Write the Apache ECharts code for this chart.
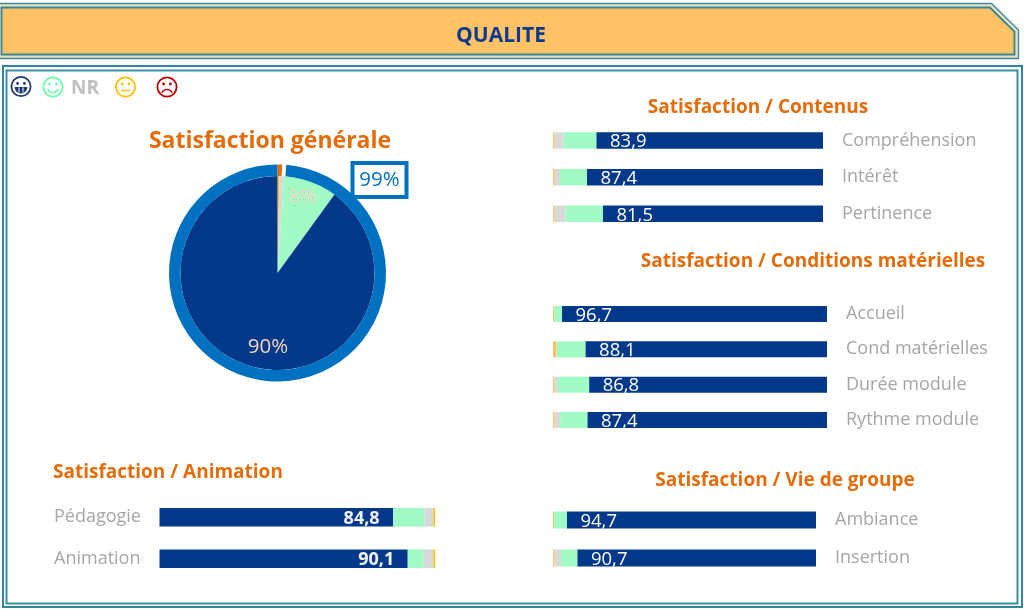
<!DOCTYPE html>
<html>
<head>
<meta charset="utf-8">
<title>QUALITE</title>
<style>
html, body { margin: 0; padding: 0; background: #fff; }
#chart { width: 1024px; height: 609px; }
</style>
<script src="https://cdn.jsdelivr.net/npm/echarts@6/dist/echarts.min.js"></script>
</head>
<body>
<div id="chart"></div>
<script>
// satisfaction generale
var pieNames = ['Mécontent', 'NR', 'Satisfait', 'Très satisfait'];
var pieValues = [0.3, 0.8, 8.9, 90];
var pieLabels = ['', '', '8%', '90%'];
var ringNames = ['Non', 'Vide', 'Oui'];
var ringValues = [0.7, 0.6, 99];

// contenus
var contenusCats = ['Compréhension', 'Intérêt', 'Pertinence'];
var contenusYellow = [0.6, 0.6, 0.6];
var contenusNr = [3.3, 2, 4];
var contenusGreen = [12.2, 10, 13.9];
var contenusBlue = [83.9, 87.4, 81.5];

// conditions materielles
var condCats = ['Accueil', 'Cond matérielles', 'Durée module', 'Rythme module'];
var condYellow = [0.5, 1.3, 0.6, 0.6];
var condNr = [0, 0, 1.2, 2];
var condGreen = [2.8, 10.6, 11.4, 10];
var condBlue = [96.7, 88.1, 86.8, 87.4];

// vie de groupe
var vieCats = ['Ambiance', 'Insertion'];
var vieYellow = [0.5, 0.6];
var vieNr = [0, 2.4];
var vieGreen = [4.8, 6.3];
var vieBlue = [94.7, 90.7];

// animation
var animCats = ['Pédagogie', 'Animation'];
var animBlue = [84.8, 90.1];
var animGreen = [11.4, 5.8];
var animNr = [3.2, 3.5];
var animYellow = [0.6, 0.6];

var FONT = '"Open Sans", sans-serif';
var BLUE = '#03388A', GREEN = '#A0FCC4', GREY = '#D9D9D9', PALE = '#FFC266', AMBER = '#FFC000';
var ORANGE = '#E46C0A', RING = '#0070C0', TEAL = '#3A8CA3', PEACH = '#F3D6BD', LABEL = '#A6A6A6';

var grids = [], xAxes = [], yAxes = [], seriesList = [];

function addBars(box, cats, stacks, opt) {
    var idx = grids.length;
    grids.push({ left: box.left, top: box.top, width: box.width, height: box.height });
    xAxes.push({ gridIndex: idx, type: 'value', min: 0, max: 100, show: false });
    yAxes.push({
        gridIndex: idx,
        type: 'category',
        data: cats,
        inverse: true,
        position: opt.side,
        axisLine: { show: false },
        axisTick: { show: false },
        axisLabel: {
            color: LABEL, fontFamily: FONT, fontSize: 18,
            align: 'left', margin: opt.margin, padding: [2, 0, 0, 0]
        }
    });
    for (var i = 0; i < stacks.length; i++) {
        var s = {
            type: 'bar',
            name: stacks[i].name,
            xAxisIndex: idx,
            yAxisIndex: idx,
            stack: 'g' + idx,
            barWidth: box.bar,
            data: stacks[i].data,
            itemStyle: { color: stacks[i].color },
            silent: true
        };
        if (stacks[i].name === 'blue') {
            s.label = {
                show: true,
                position: opt.labelPos,
                distance: 13.5,
                offset: [0, 1.5],
                color: opt.labelBold ? '#F2F2F2' : '#fff',
                fontFamily: FONT,
                fontSize: opt.labelBold ? 18 : 18.5,
                fontWeight: opt.labelBold ? 'bold' : 'normal',
                formatter: function (p) { return p.value.toFixed(1).replace('.', ','); }
            };
        }
        seriesList.push(s);
    }
}

function rightStacks(y, n, g, b) {
    return [
        { name: 'yellow', data: y, color: PALE },
        { name: 'nr', data: n, color: GREY },
        { name: 'green', data: g, color: GREEN },
        { name: 'blue', data: b, color: BLUE }
    ];
}

var rightOpt = { side: 'right', margin: 19, labelPos: 'insideLeft', labelBold: false };

addBars({ left: 553, top: 122.2, width: 270, height: 110, bar: 16.5 }, contenusCats,
    rightStacks(contenusYellow, contenusNr, contenusGreen, contenusBlue), rightOpt);
addBars({ left: 553, top: 296.4, width: 274, height: 141.2, bar: 16 }, condCats,
    rightStacks(condYellow, condNr, condGreen, condBlue), rightOpt);
addBars({ left: 553, top: 501, width: 263, height: 76, bar: 17 }, vieCats,
    rightStacks(vieYellow, vieNr, vieGreen, vieBlue), rightOpt);
addBars({ left: 159.5, top: 496.7, width: 275.5, height: 82.6, bar: 18.5 }, animCats, [
    { name: 'blue', data: animBlue, color: BLUE },
    { name: 'green', data: animGreen, color: GREEN },
    { name: 'nr', data: animNr, color: GREY },
    { name: 'yellow', data: animYellow, color: AMBER }
], { side: 'left', margin: 105.5, labelPos: 'insideRight', labelBold: true });

// pie interieur
var pieColors = [AMBER, GREY, GREEN, BLUE];
seriesList.push({
    type: 'pie',
    center: [277.5, 273],
    radius: [0, 97],
    startAngle: 90,
    silent: true,
    avoidLabelOverlap: false,
    data: pieValues.map(function (v, i) {
        return {
            name: pieNames[i], value: v,
            itemStyle: { color: pieColors[i] },
            label: { show: i >= 2 }
        };
    }),
    label: {
        position: 'inside',
        formatter: function (p) { return pieLabels[p.dataIndex]; },
        color: PEACH, fontFamily: FONT, fontSize: 20.5
    },
    labelLine: { show: false },
    labelLayout: function (p) {
        if (p.dataIndex === 2) return { x: 303, y: 197, align: 'center', verticalAlign: 'middle' };
        if (p.dataIndex === 3) return { x: 268, y: 347, align: 'center', verticalAlign: 'middle' };
        return {};
    }
});

// anneau 99%
var ringColors = [ORANGE, '#fff', RING];
seriesList.push({
    type: 'pie',
    center: [277.5, 273],
    radius: [97, 108.5],
    startAngle: 90,
    silent: true,
    avoidLabelOverlap: false,
    data: ringValues.map(function (v, i) {
        return {
            name: ringNames[i], value: v,
            itemStyle: { color: ringColors[i] },
            label: { show: i === 2 }
        };
    }),
    label: {
        position: 'inside', formatter: '{c}%',
        color: RING, fontFamily: FONT, fontSize: 20.5,
        backgroundColor: '#fff', borderColor: RING, borderWidth: 4,
        width: 50, height: 30, lineHeight: 30, align: 'center'
    },
    labelLine: { show: false },
    labelLayout: function (p) {
        if (p.dataIndex === 2) return { x: 379.5, y: 180, align: 'center', verticalAlign: 'middle' };
        return {};
    }
});

function titleAt(text, x, y, size, align, color) {
    return {
        text: text, left: x, top: y, padding: 0,
        textAlign: align, textVerticalAlign: 'middle',
        textStyle: { color: color || ORANGE, fontFamily: FONT, fontSize: size, fontWeight: 'bold' }
    };
}

var titles = [
    titleAt('QUALITE', 501, 36, 21, 'center', '#0B3A8E'),
    titleAt('Satisfaction générale', 270, 141, 23, 'center'),
    titleAt('Satisfaction / Contenus', 758, 108, 19, 'center'),
    titleAt('Satisfaction / Conditions matérielles', 813, 262, 19, 'center'),
    titleAt('Satisfaction / Animation', 53, 473, 19, 'left'),
    titleAt('Satisfaction / Vie de groupe', 785, 481, 19, 'center')
];

function banner(inset, fill, stroke, lw) {
    return {
        type: 'polygon',
        shape: { points: [
            [inset ? 1.5 : -2, 3.5 + inset], [991.5 - inset * 0.4, 3.5 + inset],
            [1018.5 - inset, 30 + inset * 0.4], [1018.5 - inset, 58.5 - inset], [inset ? 1.5 : -2, 58.5 - inset]
        ] },
        style: { fill: fill, stroke: stroke, lineWidth: lw }
    };
}

function frame(x, y, w, h, color, lw) {
    return { type: 'rect', shape: { x: x, y: y, width: w, height: h }, style: { fill: 'none', stroke: color, lineWidth: lw } };
}

function face(cx, cy, color, kind) {
    var kids = [
        { type: 'circle', shape: { cx: cx, cy: cy, r: 9.6 }, style: { fill: '#fff', stroke: color, lineWidth: 1.8 } },
        { type: 'circle', shape: { cx: cx - 3.4, cy: cy - 3, r: 1.4 }, style: { fill: color } },
        { type: 'circle', shape: { cx: cx + 3.4, cy: cy - 3, r: 1.4 }, style: { fill: color } }
    ];
    if (kind === 'grin') {
        kids.push({ type: 'sector', shape: { cx: cx, cy: cy + 0.5, r0: 0, r: 6.5, startAngle: 0, endAngle: Math.PI }, style: { fill: color } });
        kids.push({ type: 'line', shape: { x1: cx - 2, y1: cy + 1, x2: cx - 2, y2: cy + 6 }, style: { stroke: '#fff', lineWidth: 1 } });
        kids.push({ type: 'line', shape: { x1: cx + 2, y1: cy + 1, x2: cx + 2, y2: cy + 6 }, style: { stroke: '#fff', lineWidth: 1 } });
    } else if (kind === 'smile') {
        kids.push({ type: 'arc', shape: { cx: cx, cy: cy, r: 5.5, startAngle: 0.35, endAngle: Math.PI - 0.35 }, style: { fill: 'none', stroke: color, lineWidth: 1.5 } });
    } else if (kind === 'flat') {
        kids.push({ type: 'line', shape: { x1: cx - 4.5, y1: cy + 3.5, x2: cx + 4.5, y2: cy + 3.5 }, style: { stroke: color, lineWidth: 1.5 } });
    } else {
        kids.push({ type: 'arc', shape: { cx: cx, cy: cy + 8, r: 5.5, startAngle: Math.PI + 0.4, endAngle: 2 * Math.PI - 0.4 }, style: { fill: 'none', stroke: color, lineWidth: 1.5 } });
    }
    return { type: 'group', children: kids };
}

var option = {
    animation: false,
    backgroundColor: '#fff',
    title: titles,
    grid: grids,
    xAxis: xAxes,
    yAxis: yAxes,
    series: seriesList,
    graphic: [
        { type: 'group', z: -1, children: [
            banner(0, '#F0DFB8', TEAL, 1.4),
            banner(4, '#FFC266', '#31859C', 1.8),
            frame(3, 66, 1019, 541, '#31859C', 2),
            frame(6.5, 70.5, 1011, 533, TEAL, 2)
        ] },
        face(21, 86.5, '#1F3A7A', 'grin'),
        face(53, 87, '#66FFAA', 'smile'),
        { type: 'text', style: { x: 85, y: 89, text: 'NR', fill: '#BFBFBF', font: 'bold 19px ' + FONT, textAlign: 'center', textVerticalAlign: 'middle' } },
        face(125.5, 87, '#FFC000', 'flat'),
        face(167, 87, '#C00000', 'sad')
    ]
};

var chart = echarts.init(document.getElementById('chart'));
chart.setOption(option);
</script>
</body>
</html>
